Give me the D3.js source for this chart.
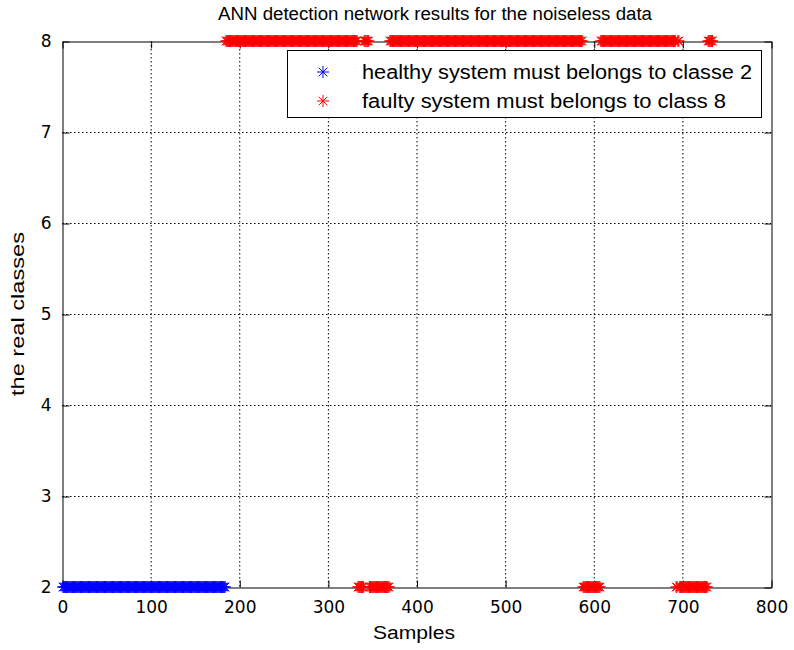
<!DOCTYPE html>
<html>
<head>
<meta charset="utf-8">
<script src="https://cdn.jsdelivr.net/npm/d3@7"></script>
<style>
  body { margin: 0; background: #fff; }
  svg { display: block; }
  text { font-family: "Liberation Sans", Arial, Helvetica, sans-serif; fill: #000; }
</style>
</head>
<body>
<svg id="chart" width="794" height="650"></svg>
<script>
// Axis ticks
const xTicks = [0, 100, 200, 300, 400, 500, 600, 700, 800];
const yTicks = [2, 3, 4, 5, 6, 7, 8];

// Legend entries
const seriesNames = [
  "healthy system must belongs to classe 2",
  "faulty system must belongs to class 8"
];
const seriesColors = ["#0000ff", "#ff0000"];

// Network output per sample, run-length coded: [first sample, last sample, class]
const healthyRuns = [
  [1, 184, 2]
];
const faultyRuns = [
  [185, 333, 8],
  [334, 340, 2],
  [341, 346, 8],
  [347, 369, 2],
  [370, 587, 8],
  [588, 607, 2],
  [608, 692, 8],
  [693, 694, 2],
  [695, 696, 8],
  [697, 728, 2],
  [729, 734, 8]
];

const plot = { left: 62, right: 771, top: 41, bottom: 587 };

const svg = d3.select("#chart");

const x = d3.scaleLinear().domain([0, 800]).range([plot.left, plot.right]);
const y = d3.scaleLinear().domain([2, 8]).range([plot.bottom, plot.top]);

// One point per sample from the run-length list
function expand(runs) {
  const pts = [];
  runs.forEach(([a, b, c]) => {
    for (let s = a; s <= b; s++) pts.push({ sample: s, cls: c });
  });
  return pts;
}
const healthy = expand(healthyRuns);
const faulty = expand(faultyRuns);

// Asterisk marker (plus + cross)
function starPath(r) {
  const a = r * Math.SQRT1_2;
  return `M${-r},0L${r},0M0,${-r}L0,${r}M${-a},${-a}L${a},${a}M${-a},${a}L${a},${-a}`;
}
const markerR = 6;

// Dotted grid
const grid = svg.append("g").attr("stroke", "#000").attr("stroke-width", 1)
  .attr("stroke-dasharray", "1.5,2.5");
xTicks.slice(1, -1).forEach(t => {
  grid.append("line").attr("x1", x(t) + 0.5).attr("x2", x(t) + 0.5)
    .attr("y1", plot.top).attr("y2", plot.bottom);
});
yTicks.slice(1, -1).forEach(t => {
  grid.append("line").attr("x1", plot.left).attr("x2", plot.right)
    .attr("y1", y(t) + 0.5).attr("y2", y(t) + 0.5);
});

// Boxed axes with inward ticks
const tickLen = 7;
const fmt = d3.format("d");
const xAxisB = d3.axisBottom(x).tickValues(xTicks).tickFormat(fmt).tickSizeInner(-tickLen).tickSizeOuter(0).tickPadding(tickLen + 6);
const xAxisT = d3.axisTop(x).tickValues(xTicks).tickSizeInner(-tickLen).tickSizeOuter(0).tickFormat("");
const yAxisL = d3.axisLeft(y).tickValues(yTicks).tickFormat(fmt).tickSizeInner(-tickLen).tickSizeOuter(0).tickPadding(tickLen + 4);
const yAxisR = d3.axisRight(y).tickValues(yTicks).tickSizeInner(-tickLen).tickSizeOuter(0).tickFormat("");

function styleAxis(g) {
  g.select(".domain").attr("stroke", "#000").attr("stroke-width", 1);
  g.selectAll(".tick line").attr("stroke", "#000").attr("stroke-width", 1);
  g.selectAll(".tick text").style("font-size", "17px")
    .style("font-family", '"DejaVu Sans", sans-serif').attr("fill", "#000");
}

svg.append("g").attr("transform", `translate(0.5,${plot.bottom + 0.5})`).call(xAxisB).call(styleAxis);
svg.append("g").attr("transform", `translate(0.5,${plot.top + 0.5})`).call(xAxisT).call(styleAxis);
svg.append("g").attr("transform", `translate(${plot.left + 0.5},0.5)`).call(yAxisL).call(styleAxis);
svg.append("g").attr("transform", `translate(${plot.right + 0.5},0.5)`).call(yAxisR).call(styleAxis);

// Markers
function drawSeries(data, color) {
  svg.append("g").attr("stroke", color).attr("stroke-width", 1).attr("fill", "none")
    .selectAll("path").data(data).join("path")
    .attr("transform", d => `translate(${x(d.sample)},${y(d.cls)})`)
    .attr("d", starPath(markerR));
}
drawSeries(healthy, seriesColors[0]);
drawSeries(faulty, seriesColors[1]);

// Title and axis labels
svg.append("text").attr("x", 435).attr("y", 20)
  .attr("text-anchor", "middle").style("font-size", "18px")
  .attr("textLength", 434).attr("lengthAdjust", "spacingAndGlyphs")
  .text("ANN detection network results for the noiseless data");
svg.append("text").attr("x", 414).attr("y", 639)
  .attr("text-anchor", "middle").style("font-size", "18px")
  .attr("textLength", 82).attr("lengthAdjust", "spacingAndGlyphs")
  .text("Samples");
svg.append("text").attr("transform", `translate(24,314) rotate(-90)`)
  .attr("text-anchor", "middle").style("font-size", "18px")
  .attr("textLength", 164).attr("lengthAdjust", "spacingAndGlyphs")
  .text("the real classes");

// Legend
const leg = { x: 287, y: 50, w: 474, h: 67 };
const lg = svg.append("g");
lg.append("rect").attr("x", leg.x + 0.5).attr("y", leg.y + 0.5).attr("width", leg.w).attr("height", leg.h)
  .attr("fill", "#fff").attr("stroke", "#000").attr("stroke-width", 1);
seriesNames.forEach((name, i) => {
  const cy = leg.y + 22 + i * 29;
  lg.append("path").attr("transform", `translate(${leg.x + 36},${cy})`)
    .attr("d", starPath(markerR)).attr("stroke", seriesColors[i]).attr("stroke-width", 1).attr("fill", "none");
  lg.append("text").attr("x", leg.x + 75).attr("y", cy).attr("dy", "0.36em")
    .style("font-size", "20px")
    .attr("textLength", i === 0 ? 390 : 364).attr("lengthAdjust", "spacingAndGlyphs")
    .text(name);
});
</script>
</body>
</html>
